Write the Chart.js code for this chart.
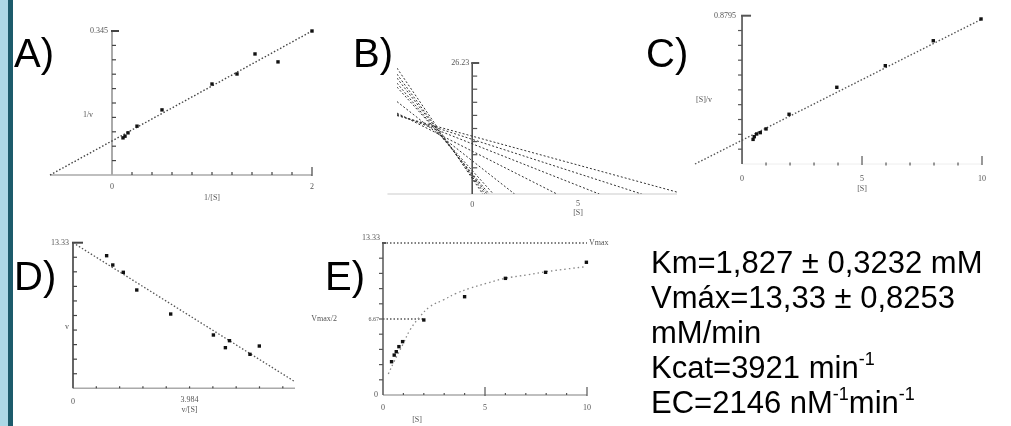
<!DOCTYPE html>
<html>
<head>
<meta charset="utf-8">
<script src="https://cdn.jsdelivr.net/npm/chart.js@4.4.1/dist/chart.umd.min.js"></script>
<style>
  body { margin: 0; width: 1011px; height: 426px; background: #fff; overflow: hidden; position: relative;
         font-family: Arial, "Liberation Sans", sans-serif; }
  .bar1 { position: absolute; left: 0; top: 0; width: 8px; height: 426px; background: #add8e6; }
  .bar2 { position: absolute; left: 8px; top: 0; width: 5px; height: 426px; background: #1d5b6b; }
  canvas { position: absolute; left: 0; top: 0; }
  .lbl { position: absolute; font-size: 40px; line-height: 40px; color: #000; z-index: 5; }
  .info { position: absolute; left: 651px; top: 245px; font-size: 31px; line-height: 35px; color: #000; z-index: 5; white-space: nowrap; }
  .info sup { font-size: 18px; line-height: 0; position: relative; top: -2px; }
</style>
</head>
<body>
<div class="bar1"></div><div class="bar2"></div>
<canvas id="pA" width="1011" height="426"></canvas>
<canvas id="pB" width="1011" height="426"></canvas>
<canvas id="pC" width="1011" height="426"></canvas>
<canvas id="pD" width="1011" height="426"></canvas>
<canvas id="pE" width="1011" height="426"></canvas>
<div class="lbl" style="left:14px;top:33px">A)</div>
<div class="lbl" style="left:353px;top:33px">B)</div>
<div class="lbl" style="left:646px;top:33px">C)</div>
<div class="lbl" style="left:14px;top:256px">D)</div>
<div class="lbl" style="left:325px;top:256px">E)</div>
<div class="info">
  Km=1,827 ± 0,3232 mM<br>
  Vmáx=13,33 ± 0,8253<br>
  mM/min<br>
  Kcat=3921 min<sup>-1</sup><br>
  EC=2146 nM<sup>-1</sup>min<sup>-1</sup>
</div>
<script>
'use strict';

// A) Lineweaver-Burk: 1/[S] vs 1/v
const aInvS = [2.0, 1.43, 1.66, 1.25, 1.0, 0.5, 0.25, 0.16, 0.13, 0.11];
const aInvV = [0.345, 0.290, 0.271, 0.242, 0.218, 0.156, 0.117, 0.101, 0.093, 0.089];
const aFitX = [-0.62, 2];
const aFitY = [0, 0.345];

// B) direct linear plot: each line from left edge down to its [S] on the x axis
const bLeftX = -3.55;
const bStartY = [25.2, 24.0, 23.2, 22.2, 21.4, 18.5, 16.2, 16.0, 15.8, 15.7];
const bEndS = [0.5, 0.6, 0.7, 0.8, 1, 2, 4, 6, 8, 10];

// C) Hanes-Woolf: [S] vs [S]/v
const cS = [0.46, 0.51, 0.61, 0.76, 1.0, 1.96, 3.95, 5.97, 7.97, 9.96];
const cSoverV = [0.146, 0.162, 0.178, 0.186, 0.208, 0.295, 0.455, 0.583, 0.731, 0.860];
const cFitX = [-1.96, 10];
const cFitY = [0, 0.86];

// D) Eadie-Hofstee: v/[S] vs v
const dVoverS = [1.15, 1.36, 1.72, 2.18, 3.34, 4.80, 5.35, 5.21, 6.05, 6.37];
const dV = [12.14, 11.29, 10.62, 9.0, 6.80, 4.88, 4.36, 3.72, 3.11, 3.87];
const dFitX = [0, 7.59];
const dFitY = [13.33, 0.6];

// E) Michaelis-Menten: [S] vs v
const eS = [0.42, 0.55, 0.65, 0.78, 0.96, 2.0, 4.0, 6.0, 7.97, 9.97];
const eV = [2.92, 3.5, 3.8, 4.24, 4.68, 6.58, 8.62, 10.23, 10.76, 11.64];
const eCurveS = [0.26, 0.54, 1.0, 1.32, 1.81, 2.3, 2.95, 3.6, 4.26, 5.08, 5.98, 7.05, 8.03, 9.0, 9.94];
const eCurveV = [1.84, 2.92, 4.53, 5.7, 6.87, 7.75, 8.33, 8.92, 9.36, 9.8, 10.23, 10.53, 10.82, 11.05, 11.25];
const eVmax = 13.33;
const eKm = 2.0;

// tick labels
const aTop = '0.345', bTop = '26.23', cTop = '0.8795', dTop = '13.33', eTop = '13.33';
const dMid = 3.984;

const W = 1011, H = 426;
const axisFont = "8px 'Liberation Serif', serif";

function zip(xs, ys) {
  return xs.map((x, i) => ({ x: x, y: ys[i] }));
}
function steps(step, n) {
  let out = [];
  for (let i = 1; i <= n; i++) out.push(step * i);
  return out;
}

const sketchAxes = {
  id: 'sketchAxes',
  beforeDatasetsDraw(chart, args, o) {
    const ctx = chart.ctx;
    const X = v => chart.scales.x.getPixelForValue(v);
    const Y = v => chart.scales.y.getPixelForValue(v);
    ctx.save();
    // axis lines
    ctx.strokeStyle = o.xAxis.color; ctx.lineWidth = o.xAxis.width;
    ctx.beginPath(); ctx.moveTo(X(o.xAxis.from), Y(0)); ctx.lineTo(X(o.xAxis.to), Y(0)); ctx.stroke();
    ctx.strokeStyle = o.yAxis.color; ctx.lineWidth = o.yAxis.width;
    ctx.beginPath(); ctx.moveTo(X(0), Y(0)); ctx.lineTo(X(0), Y(o.yAxis.to)); ctx.stroke();
    // y ticks
    ctx.strokeStyle = o.tickColor; ctx.lineWidth = 1.2;
    o.yTicks.forEach(v => {
      ctx.beginPath(); ctx.moveTo(X(0), Y(v)); ctx.lineTo(X(0) + o.ySide * o.yLen, Y(v)); ctx.stroke();
    });
    // top cap
    ctx.lineWidth = 2;
    ctx.beginPath(); ctx.moveTo(X(0) - 1, Y(o.yAxis.to)); ctx.lineTo(X(0) + o.capLen, Y(o.yAxis.to)); ctx.stroke();
    // x ticks
    ctx.lineWidth = 1.2;
    o.xTicks.forEach(v => {
      ctx.beginPath(); ctx.moveTo(X(v), Y(0) - o.xUp); ctx.lineTo(X(v), Y(0) + o.xDown); ctx.stroke();
    });
    (o.xMajor || []).forEach(v => {
      ctx.beginPath(); ctx.moveTo(X(v), Y(0) - 8); ctx.lineTo(X(v), Y(0) + 1); ctx.stroke();
    });
    ctx.restore();
  },
  afterDatasetsDraw(chart, args, o) {
    const ctx = chart.ctx;
    const X = v => chart.scales.x.getPixelForValue(v);
    const Y = v => chart.scales.y.getPixelForValue(v);
    ctx.save();
    ctx.fillStyle = '#555';
    ctx.textBaseline = 'middle';
    o.texts.forEach(t => {
      ctx.font = t.font || axisFont;
      ctx.textAlign = t.align || 'center';
      ctx.fillText(t.text, X(t.x) + (t.dx || 0), Y(t.y) + (t.dy || 0));
    });
    ctx.restore();
  }
};

function panel(id, area, xr, yr, datasets, axes) {
  new Chart(document.getElementById(id), {
    type: 'scatter',
    data: { datasets: datasets },
    options: {
      responsive: false,
      animation: false,
      events: [],
      layout: { padding: { left: area[0], top: area[1], right: W - area[2], bottom: H - area[3] } },
      scales: {
        x: { type: 'linear', display: false, min: xr[0], max: xr[1] },
        y: { type: 'linear', display: false, min: yr[0], max: yr[1] }
      },
      plugins: { legend: { display: false }, tooltip: { enabled: false }, sketchAxes: axes }
    },
    plugins: [sketchAxes]
  });
}

function pointSet(xs, ys) {
  return { data: zip(xs, ys), pointStyle: 'rect', pointRadius: 2.4, backgroundColor: '#111',
           borderColor: '#111', borderWidth: 0, clip: false };
}
function lineSet(xs, ys, color, width, dash, extra) {
  return Object.assign({ data: zip(xs, ys), showLine: true, pointRadius: 0, borderColor: color,
           borderWidth: width, borderDash: dash, clip: false }, extra || {});
}

// A
panel('pA', [50, 31, 312, 175], [-0.62, 2], [0, 0.345],
  [pointSet(aInvS, aInvV), lineSet(aFitX, aFitY, '#444', 1.4, [1.5, 2])],
  {
    xAxis: { from: -0.62, to: 2, color: '#aaa', width: 1.5 },
    yAxis: { to: 0.345, color: '#aaa', width: 2 },
    tickColor: '#444', ySide: 1, yLen: 4, capLen: 7,
    yTicks: steps(0.0345, 9), xTicks: steps(0.2, 9), xUp: 3, xDown: 0, xMajor: [2],
    texts: [
      { x: 0, y: 0.345, dx: -4, text: aTop, align: 'right' },
      { x: 0, y: 0.144, dx: -24, text: '1/v' },
      { x: 0, y: 0, dy: 12, text: '0' },
      { x: 2, y: 0, dy: 12, text: '2' },
      { x: 1, y: 0, dy: 23, text: '1/[S]' }
    ]
  });

// B
const bSets = bEndS.map((s, i) => lineSet([bLeftX, s], [bStartY[i], 0], '#333', 1, [2, 2], { clip: 0 }));
panel('pB', [397, 63, 677, 194], [-3.55, 9.67], [0, 26.23], bSets,
  {
    xAxis: { from: -4.0, to: 9.67, color: '#ccc', width: 1.2 },
    yAxis: { to: 26.23, color: '#444', width: 1.5 },
    tickColor: '#555', ySide: 1, yLen: 5, capLen: 7,
    yTicks: steps(2.623, 9), xTicks: [], xUp: 0, xDown: 0,
    texts: [
      { x: 0, y: 26.23, dx: -3, text: bTop, align: 'right' },
      { x: 0, y: 0, dy: 11, text: '0' },
      { x: 5, y: 0, dy: 10, text: '5' },
      { x: 5, y: 0, dy: 19, text: '[S]' }
    ]
  });

// C
panel('pC', [695, 15.7, 982, 164], [-1.96, 10], [0, 0.8795],
  [pointSet(cS, cSoverV), lineSet(cFitX, cFitY, '#555', 1.4, [1.5, 2])],
  {
    xAxis: { from: 0, to: 10, color: '#eee', width: 1 },
    yAxis: { to: 0.8795, color: '#444', width: 1.5 },
    tickColor: '#555', ySide: -1, yLen: 4, capLen: 9,
    yTicks: steps(0.08795, 9), xTicks: [1, 2, 3, 4, 6, 7, 8, 9], xUp: 1.5, xDown: 1.5, xMajor: [5, 10],
    texts: [
      { x: 0, y: 0.8795, dx: -6, text: cTop, align: 'right' },
      { x: 0, y: 0.38, dx: -38, text: '[S]/v' },
      { x: 0, y: 0, dy: 15, text: '0' },
      { x: 5, y: 0, dy: 15, text: '5' },
      { x: 10, y: 0, dy: 15, text: '10' },
      { x: 5, y: 0, dy: 25, text: '[S]' }
    ]
  });

// D
panel('pD', [73, 242.7, 295, 388.3], [0, 7.59], [0, 13.33],
  [pointSet(dVoverS, dV), lineSet(dFitX, dFitY, '#555', 1.3, [1.5, 2])],
  {
    xAxis: { from: 0, to: 7.59, color: '#aaa', width: 1.5 },
    yAxis: { to: 13.33, color: '#555', width: 1.8 },
    tickColor: '#444', ySide: 1, yLen: 4, capLen: 10,
    yTicks: steps(1.333, 9), xTicks: steps(0.797, 9), xUp: 2, xDown: 0,
    texts: [
      { x: 0, y: 13.33, dx: -4, text: dTop, align: 'right' },
      { x: 0, y: 5.6, dx: -6, text: 'v' },
      { x: 0, y: 0, dy: 14, text: '0' },
      { x: dMid, y: 0, dy: 12, text: String(dMid) },
      { x: dMid, y: 0, dy: 22, text: 'v/[S]' }
    ]
  });

// E
panel('pE', [383, 243, 587, 395], [0, 10], [0, 13.33],
  [pointSet(eS, eV),
   lineSet(eCurveS, eCurveV, '#888', 1.3, [1.5, 3], { tension: 0.4 }),
   lineSet([0, 10], [eVmax, eVmax], '#555', 1.3, [1.5, 2]),
   lineSet([0, eKm], [eVmax / 2, eVmax / 2], '#555', 1.3, [1.5, 2])],
  {
    xAxis: { from: 0, to: 10, color: '#aaa', width: 1.5 },
    yAxis: { to: 13.33, color: '#555', width: 1.5 },
    tickColor: '#555', ySide: -1, yLen: 4, capLen: 3,
    yTicks: steps(1.333, 9), xTicks: [1, 2, 3, 4, 6, 7, 8, 9], xUp: 2, xDown: 0, xMajor: [5, 10],
    texts: [
      { x: 0, y: 13.33, dx: -3, dy: -5, text: eTop, align: 'right' },
      { x: 0, y: 6.665, dx: -4, text: '6.67', align: 'right', font: "6px 'Liberation Serif', serif" },
      { x: 0, y: 6.665, dx: -46, text: 'Vmax/2', align: 'right' },
      { x: 10, y: 13.33, dx: 2, text: 'Vmax', align: 'left' },
      { x: 0, y: 0, dx: -5, text: '0', align: 'right' },
      { x: 0, y: 0, dy: 13, text: '0' },
      { x: 5, y: 0, dy: 13, text: '5' },
      { x: 10, y: 0, dy: 13, text: '10' },
      { x: 1.67, y: 0, dy: 25, text: '[S]' }
    ]
  });
</script>
</body>
</html>
